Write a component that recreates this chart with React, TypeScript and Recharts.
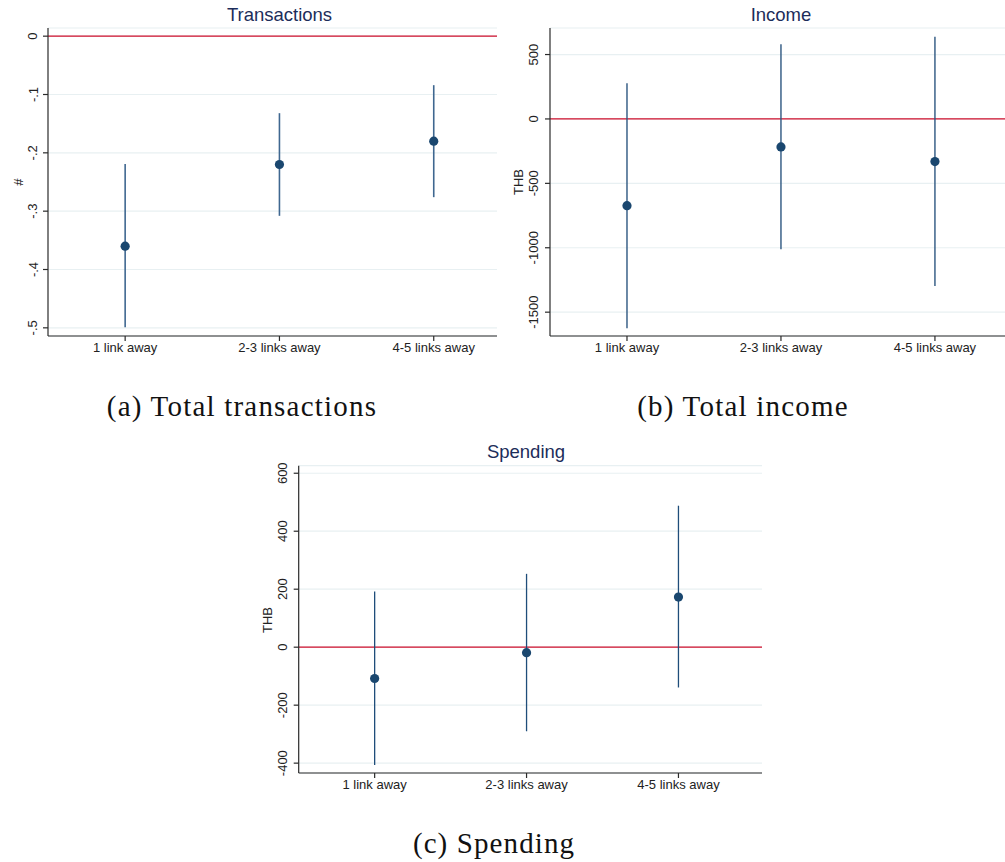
import React from "react";
import {
  ScatterChart,
  Scatter,
  XAxis,
  YAxis,
  CartesianGrid,
  ReferenceLine,
  ErrorBar,
} from "recharts";

// ---------- data ----------
const categories = ["1 link away", "2-3 links away", "4-5 links away"];

const transEst = [-0.36, -0.22, -0.18];
const transLo = [-0.499, -0.308, -0.276];
const transHi = [-0.219, -0.132, -0.084];
const transTicks = [0, -0.1, -0.2, -0.3, -0.4, -0.5];

const incomeEst = [-673, -217, -331];
const incomeLo = [-1625, -1012, -1297];
const incomeHi = [277, 580, 639];
const incomeTicks = [500, 0, -500, -1000, -1500];

const spendEst = [-108, -19, 173];
const spendLo = [-406, -290, -139];
const spendHi = [192, 253, 488];
const spendTicks = [600, 400, 200, 0, -200, -400];

const xTicks = categories.map((_, i) => i + 1);

function build(est: number[], lo: number[], hi: number[]) {
  return categories.map((c, i) => ({
    x: i + 1,
    cat: c,
    est: est[i],
    err: [est[i] - lo[i], hi[i] - est[i]],
  }));
}

const SANS = "'Liberation Sans', Arial, Helvetica, sans-serif";
const SERIF = "'Liberation Serif', 'Times New Roman', serif";
const NAVY = "#1a476f";
const TITLE = "#1c2d5a";
const RED = "#d0102c";
const GRID = "#e8f0f2";
const AXIS = "#2a2a2a";

const fmtDec = (v: number) => {
  if (Math.abs(v) < 1e-9) return "0";
  return v.toFixed(1).replace("0.", ".");
};
const fmtInt = (v: number) => String(v);

const YTick = (props: any) => {
  const { x, y, payload, fmt } = props;
  return (
    <text
      x={x}
      y={y}
      transform={`rotate(-90 ${x} ${y})`}
      textAnchor="middle"
      fontSize={13}
      fill="#222"
      fontFamily={SANS}
    >
      {fmt(payload.value)}
    </text>
  );
};

const Dot = (props: any) => {
  const { cx, cy } = props;
  if (cx == null || cy == null) return null;
  return <circle cx={cx} cy={cy} r={4.6} fill={NAVY} />;
};

type PanelProps = {
  left: number;
  top: number;
  width: number;
  height: number;
  marginTop: number;
  yWidth: number;
  xDomain: [number, number];
  yDomain: [number, number];
  yTicks: number[];
  fmt: (v: number) => string;
  tickMargin: number;
  data: any[];
  barColor: string;
  barWidth: number;
};

function Panel(p: PanelProps) {
  return (
    <div style={{ position: "absolute", left: p.left, top: p.top }}>
      <ScatterChart
        width={p.width}
        height={p.height}
        margin={{ top: p.marginTop, right: 0, bottom: 0, left: 0 }}
      >
        <CartesianGrid
          horizontal={true}
          vertical={false}
          stroke={GRID}
          strokeWidth={1.2}
        />
        <XAxis
          type="number"
          dataKey="x"
          domain={p.xDomain}
          ticks={xTicks}
          allowDataOverflow
          tickFormatter={(v: number) => categories[Math.round(v) - 1] ?? ""}
          height={24}
          tickSize={5}
          tickMargin={2}
          stroke={AXIS}
          strokeWidth={1.2}
          tick={{ fontSize: 13, fill: "#222", fontFamily: SANS }}
          interval={0}
        />
        <YAxis
          type="number"
          dataKey="est"
          domain={p.yDomain}
          ticks={p.yTicks}
          allowDataOverflow
          width={p.yWidth}
          tickSize={5}
          tickMargin={p.tickMargin}
          stroke={AXIS}
          strokeWidth={1.2}
          tick={<YTick fmt={p.fmt} />}
          interval={0}
        />
        <ReferenceLine y={0} stroke={RED} strokeWidth={1.2} />
        <Scatter data={p.data} shape={<Dot />} isAnimationActive={false}>
          <ErrorBar
            dataKey="err"
            direction="y"
            width={0}
            stroke={p.barColor}
            strokeWidth={p.barWidth}
            isAnimationActive={false}
          />
        </Scatter>
      </ScatterChart>
    </div>
  );
}

export default function App() {
  return (
    <div
      style={{
        position: "absolute",
        left: 0,
        top: 0,
        width: 1005,
        height: 862,
        overflow: "hidden",
        background: "#fff",
      }}
    >
      <Panel
        left={0}
        top={0}
        width={497}
        height={360}
        marginTop={28}
        yWidth={48}
        xDomain={[0.5, 3.41]}
        yDomain={[-0.514, 0.014]}
        yTicks={transTicks}
        fmt={fmtDec}
        tickMargin={5.5}
        data={build(transEst, transLo, transHi)}
        barColor="#3f6790"
        barWidth={1.6}
      />
      <Panel
        left={500}
        top={0}
        width={505}
        height={360}
        marginTop={28}
        yWidth={50}
        xDomain={[0.5, 3.455]}
        yDomain={[-1685, 706]}
        yTicks={incomeTicks}
        fmt={fmtInt}
        tickMargin={7}
        data={build(incomeEst, incomeLo, incomeHi)}
        barColor="#2d5680"
        barWidth={1.4}
      />
      <Panel
        left={240}
        top={435}
        width={522}
        height={362}
        marginTop={30.7}
        yWidth={58.7}
        xDomain={[0.5, 3.55]}
        yDomain={[-434, 626]}
        yTicks={spendTicks}
        fmt={fmtInt}
        tickMargin={6.5}
        data={build(spendEst, spendLo, spendHi)}
        barColor="#1f4d7a"
        barWidth={1.3}
      />
      <svg
        width={1005}
        height={862}
        style={{ position: "absolute", left: 0, top: 0, pointerEvents: "none" }}
      >
        <text x={279.5} y={20.5} textAnchor="middle" fontSize={18.5} fill={TITLE} fontFamily={SANS}>
          Transactions
        </text>
        <text x={781} y={20.5} textAnchor="middle" fontSize={18.5} fill={TITLE} fontFamily={SANS}>
          Income
        </text>
        <text x={526} y={457.5} textAnchor="middle" fontSize={18.5} fill={TITLE} fontFamily={SANS}>
          Spending
        </text>
        <text x={22.5} y={182} transform="rotate(-90 22.5 182)" textAnchor="middle" fontSize={13} fill="#222" fontFamily={SANS}>
          #
        </text>
        <text x={523} y={182} transform="rotate(-90 523 182)" textAnchor="middle" fontSize={13} fill="#222" fontFamily={SANS}>
          THB
        </text>
        <text x={271.5} y={620} transform="rotate(-90 271.5 620)" textAnchor="middle" fontSize={13} fill="#222" fontFamily={SANS}>
          THB
        </text>
        <text x={242} y={416} textAnchor="middle" fontSize={29} fill="#111" fontFamily={SERIF} letterSpacing={1.2}>
          (a) Total transactions
        </text>
        <text x={743} y={416} textAnchor="middle" fontSize={29} fill="#111" fontFamily={SERIF} letterSpacing={1.2}>
          (b) Total income
        </text>
        <text x={494} y={853} textAnchor="middle" fontSize={29} fill="#111" fontFamily={SERIF} letterSpacing={1.1}>
          (c) Spending
        </text>
      </svg>
    </div>
  );
}
